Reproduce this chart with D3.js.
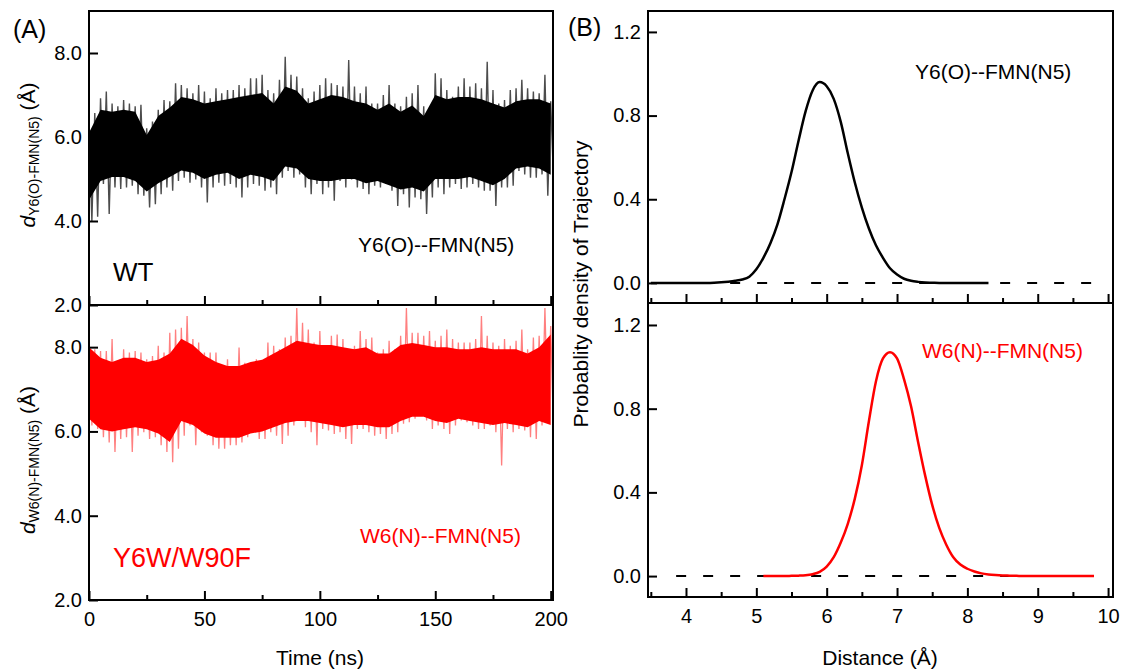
<!DOCTYPE html>
<html lang="en">
<head>
<meta charset="utf-8">
<title>Y6 / W6 - FMN distance</title>
<style>
 body { margin: 0; background: #fff; }
 svg text { font-family: Arial, "Liberation Sans", sans-serif; }
</style>
</head>
<body>
<div id="plot"></div>
<script src="https://d3js.org/d3.v7.min.js"></script>
<script>
// ---- time traces (ns): spike envelope every 2.5 ns, dense core every 5 ns
var tSpike = d3.range(0, 200.01, 2.5),
    tCore = d3.range(0, 200.01, 5);

var wtHi = [6.2, 6.57, 6.92, 7.08, 6.8, 6.73, 6.88, 6.8, 6.73, 6.77,
            6.21, 6.37, 6.65, 6.88, 6.85, 7.28, 7.24, 7.16, 7.04, 7.24,
            7.08, 6.92, 7.16, 7.04, 7.12, 7.12, 7.24, 7.16, 7.4, 7.4,
            7.48, 7.12, 7.04, 7.36, 7.91, 7.48, 7.44, 7.16, 6.92, 7.08,
            7.24, 7.4, 7.28, 7.24, 7.2, 7.83, 7.2, 7.04, 7.2, 6.8,
            6.8, 7.0, 7.24, 6.8, 6.73, 6.96, 7.04, 7.24, 6.73, 6.37,
            7.52, 7.4, 7.12, 6.96, 7.2, 7.4, 7.2, 7.28, 7.16, 7.79,
            7.12, 6.8, 6.88, 7.12, 7.16, 7.36, 7.16, 7.08, 7.04, 7.48, 6.85];
var wtLo = [4.0, 4.1, 4.88, 4.17, 4.8, 4.76, 4.8, 4.84, 4.64, 4.6,
            4.32, 4.4, 4.64, 4.8, 4.72, 4.95, 5.03, 4.91, 4.99, 4.8,
            4.44, 4.8, 4.91, 4.84, 4.88, 4.8, 4.56, 4.8, 4.88, 4.84,
            4.72, 4.8, 4.64, 5.03, 5.19, 5.03, 5.11, 4.8, 4.64, 4.88,
            4.64, 4.8, 4.48, 4.95, 4.8, 4.99, 4.8, 4.76, 4.64, 4.84,
            4.8, 4.88, 4.72, 4.36, 4.64, 4.32, 4.56, 4.52, 4.17, 4.56,
            4.8, 4.64, 4.8, 4.88, 4.76, 4.8, 4.88, 4.8, 4.72, 4.72,
            4.36, 4.8, 4.8, 4.84, 5.19, 5.11, 5.03, 5.03, 5.11, 4.6, 4.95];
var wtCoreHi = [6.1, 6.65, 6.6, 6.65, 6.6, 6.05, 6.5, 6.7, 6.95, 6.9,
                6.8, 6.85, 6.9, 6.95, 7.0, 7.05, 6.8, 7.2, 7.1, 6.8,
                6.9, 7.0, 6.95, 6.85, 6.8, 6.65, 6.8, 6.6, 6.75, 6.5,
                7.0, 6.9, 6.95, 6.95, 6.9, 6.8, 6.7, 6.85, 6.9, 6.9, 6.8];
var wtCoreLo = [4.5, 4.95, 5.05, 5.05, 4.95, 4.7, 4.9, 5.05, 5.2, 5.15,
                5.0, 5.1, 5.15, 5.0, 5.1, 5.05, 4.95, 5.3, 5.25, 5.0,
                4.95, 4.95, 5.0, 5.0, 4.9, 4.95, 4.85, 4.75, 4.8, 4.7,
                5.0, 5.0, 5.0, 5.05, 4.95, 4.85, 5.0, 5.25, 5.3, 5.25, 5.1];

var mutHi = [8.03, 7.95, 7.91, 7.91, 8.19, 7.63, 7.95, 7.87, 7.91, 7.87,
             7.71, 7.79, 8.03, 7.87, 8.34, 8.42, 8.46, 8.74, 8.19, 8.11,
             7.87, 7.87, 7.87, 7.56, 7.71, 7.4, 7.99, 7.63, 7.56, 7.71,
             7.63, 8.11, 8.03, 7.95, 8.23, 8.27, 8.93, 8.58, 8.42, 8.11,
             8.38, 8.03, 8.27, 8.3, 8.19, 7.95, 8.03, 8.38, 8.19, 8.23,
             7.87, 7.95, 8.15, 7.95, 8.27, 8.93, 8.34, 8.34, 8.27, 8.38,
             8.15, 8.27, 8.42, 8.19, 8.11, 8.11, 8.11, 8.19, 8.74, 8.27,
             8.11, 8.03, 8.19, 8.03, 8.15, 8.42, 7.95, 8.23, 8.27, 8.93, 8.5];
var mutLo = [6.14, 6.06, 5.86, 5.74, 5.51, 5.82, 5.86, 5.51, 5.9, 5.98,
             5.82, 5.86, 5.67, 5.51, 5.27, 5.59, 5.9, 6.14, 5.67, 5.98,
             5.9, 5.67, 5.59, 5.59, 5.67, 5.67, 5.74, 5.86, 6.06, 5.82,
             5.82, 5.98, 5.9, 5.7, 5.9, 6.14, 6.3, 6.1, 5.98, 5.67,
             6.06, 6.02, 5.94, 5.98, 5.82, 5.7, 6.06, 6.06, 5.98, 5.9,
             5.94, 5.82, 5.94, 5.98, 6.18, 6.22, 6.3, 6.37, 6.26, 6.06,
             6.14, 6.06, 5.94, 6.14, 6.26, 6.22, 6.14, 6.06, 6.06, 6.14,
             5.98, 5.19, 6.06, 5.98, 6.06, 6.02, 5.86, 5.82, 6.14, 6.3, 5.94];
var mutCoreHi = [8.0, 7.75, 7.65, 7.75, 7.75, 7.65, 7.7, 7.85, 8.2, 8.05,
                 7.8, 7.65, 7.55, 7.55, 7.65, 7.7, 7.85, 8.0, 8.15, 8.1,
                 8.05, 8.05, 8.0, 7.95, 8.0, 7.85, 7.85, 8.05, 8.1, 8.05,
                 8.0, 8.0, 7.95, 7.95, 8.0, 7.95, 7.95, 7.95, 7.85, 8.0, 8.3];
var mutCoreLo = [6.3, 6.05, 6.0, 6.05, 6.1, 6.05, 5.95, 5.75, 6.25, 6.15,
                 5.95, 5.85, 5.85, 5.85, 5.95, 6.0, 6.1, 6.2, 6.25, 6.25,
                 6.2, 6.15, 6.1, 6.15, 6.15, 6.1, 6.1, 6.25, 6.35, 6.35,
                 6.25, 6.2, 6.3, 6.25, 6.2, 6.15, 6.2, 6.15, 6.1, 6.25, 6.15];

// ---- probability density vs distance (Å)
var distWT = d3.range(35, 84).map(function (d) { return d / 10; });
var pdWT = [0, 0, 0, 0, 0, 0, 0, 0, 0, 0.001,
            0.003, 0.006, 0.01, 0.016, 0.03, 0.065, 0.12, 0.19, 0.28, 0.40,
            0.53, 0.68, 0.82, 0.92, 0.96, 0.94, 0.88, 0.77, 0.62, 0.48,
            0.36, 0.26, 0.18, 0.12, 0.07, 0.04, 0.02, 0.01, 0.005, 0.002,
            0.001, 0, 0, 0, 0, 0, 0, 0, 0];
var distMut = d3.range(51, 99).map(function (d) { return d / 10; });
var pdMut = [0, 0, 0, 0, 0.001, 0.002, 0.004, 0.009, 0.02, 0.045,
             0.09, 0.16, 0.25, 0.37, 0.53, 0.74, 0.93, 1.04, 1.07, 1.04,
             0.94, 0.81, 0.64, 0.48, 0.34, 0.23, 0.15, 0.09, 0.055, 0.035,
             0.022, 0.013, 0.008, 0.005, 0.003, 0.002, 0.001, 0, 0, 0,
             0, 0, 0, 0, 0, 0, 0, 0];
var zeroSpan = [3.86, 9.78];

var timeMajor = [0, 50, 100, 150, 200],
    timeMinor = [25, 75, 125, 175],
    distMajor = [4, 5, 6, 7, 8, 9, 10],
    distMinor = [3.5, 4.5, 5.5, 6.5, 7.5, 8.5, 9.5],
    dTicks = [2, 4, 6, 8],
    pTicks = [0, 0.4, 0.8, 1.2];

var RED = "#ff0000";

var svg = d3.select("#plot").append("svg")
            .attr("width", 1125).attr("height", 670);

var xTime = d3.scaleLinear().domain([0, 201]).range([89, 553]),
    yWT = d3.scaleLinear().domain([2, 9]).range([305, 11]),
    yMut = d3.scaleLinear().domain([2, 9]).range([600, 305]),
    xDist = d3.scaleLinear().domain([3.46, 10.07]).range([648, 1113]),
    yPdTop = d3.scaleLinear().domain([-0.096, 1.3]).range([303, 11]),
    yPdBot = d3.scaleLinear().domain([-0.1, 1.305]).range([597, 303]);

var clipN = 0;
var panel = function (x, y) {
  var id = "clip" + (clipN++);
  svg.append("clipPath").attr("id", id)
     .append("rect")
     .attr("x", x.range()[0]).attr("y", y.range()[1])
     .attr("width", x.range()[1] - x.range()[0])
     .attr("height", y.range()[0] - y.range()[1]);
  return svg.append("g").attr("clip-path", "url(#" + id + ")");
};

var styleAxis = function (g) {
  g.select(".domain").remove();
  g.attr("font-size", 20).attr("font-family", "Arial, 'Liberation Sans', sans-serif");
  g.selectAll("line").attr("stroke", "#000").attr("stroke-width", 2);
  g.selectAll("text").attr("fill", "#000");
};

var axes = function (x, y, major, minor, yTicks, showX, xfmt) {
  var base = y.range()[0];
  svg.append("g").attr("transform", "translate(0," + base + ")")
     .call(d3.axisBottom(x).tickValues(major).tickSize(-9).tickPadding(12)
             .tickFormat(showX ? xfmt : ""))
     .call(styleAxis);
  svg.append("g").attr("transform", "translate(0," + base + ")")
     .call(d3.axisBottom(x).tickValues(minor).tickSize(-5).tickFormat(""))
     .call(styleAxis);
  svg.append("g").attr("transform", "translate(" + x.range()[0] + ",0)")
     .call(d3.axisLeft(y).tickValues(yTicks).tickSize(-9).tickPadding(7)
             .tickFormat(d3.format(".1f")))
     .call(styleAxis);
  svg.append("rect")
     .attr("x", x.range()[0]).attr("y", y.range()[1])
     .attr("width", x.range()[1] - x.range()[0])
     .attr("height", y.range()[0] - y.range()[1])
     .attr("fill", "none").attr("stroke", "#000").attr("stroke-width", 2);
};

// noisy trace: thin zig-zag between spike extremes, solid band for the dense core
var drawTrace = function (y, hi, lo, coreHi, coreLo, color, spikeOpacity, spikeWidth) {
  var g = panel(xTime, y);
  var zig = [];
  tSpike.forEach(function (t, i) {
    zig.push([t, hi[i]]);
    zig.push([t + 1.25, lo[i]]);
  });
  g.append("path")
   .attr("d", d3.line().x(function (d) { return xTime(d[0]); })
                       .y(function (d) { return y(d[1]); })(zig))
   .attr("fill", "none").attr("stroke", color)
   .attr("stroke-opacity", spikeOpacity).attr("stroke-width", spikeWidth);
  g.append("path")
   .attr("d", d3.area().curve(d3.curveLinear)
                       .x(function (d, i) { return xTime(tCore[i]); })
                       .y0(function (d, i) { return y(coreLo[i]); })
                       .y1(function (d, i) { return y(coreHi[i]); })(tCore))
   .attr("fill", color);
};

var drawDensity = function (y, xs, ys, color) {
  var g = panel(xDist, y);
  g.append("path")
   .attr("d", d3.line().x(function (d) { return xDist(d); })
                       .y(function () { return y(0); })(zeroSpan))
   .attr("stroke", "#000").attr("stroke-width", 2)
   .attr("stroke-dasharray", "10,17").attr("fill", "none");
  g.append("path")
   .attr("d", d3.line().curve(d3.curveMonotoneX)
                       .x(function (d, i) { return xDist(xs[i]); })
                       .y(function (d) { return y(d); })(ys))
   .attr("fill", "none").attr("stroke", color).attr("stroke-width", 2.5);
};

drawTrace(yWT, wtHi, wtLo, wtCoreHi, wtCoreLo, "#000", 0.7, 1.4);
drawTrace(yMut, mutHi, mutLo, mutCoreHi, mutCoreLo, RED, 0.5, 1.3);
drawDensity(yPdTop, distWT, pdWT, "#000");
drawDensity(yPdBot, distMut, pdMut, RED);

axes(xTime, yWT, timeMajor, timeMinor, dTicks, false);
axes(xTime, yMut, timeMajor, timeMinor, dTicks, true, d3.format("d"));
axes(xDist, yPdTop, distMajor, distMinor, pTicks, false);
axes(xDist, yPdBot, distMajor, distMinor, pTicks, true, d3.format("d"));

var label = function (x, y, txt, size, color, anchor) {
  return svg.append("text").attr("x", x).attr("y", y)
            .attr("font-size", size).attr("fill", color || "#000")
            .attr("text-anchor", anchor || "start").text(txt);
};

label(13, 38, "(A)", 25);
label(568, 36, "(B)", 25);
label(113, 281, "WT", 26);
label(113, 567, "Y6W/W90F", 27, RED);
label(358, 252, "Y6(O)--FMN(N5)", 21);
label(360, 543, "W6(N)--FMN(N5)", 21, RED);
label(915, 79, "Y6(O)--FMN(N5)", 21);
label(922, 358, "W6(N)--FMN(N5)", 21, RED);
label(320, 665, "Time (ns)", 21, "#000", "middle");
label(880, 665, "Distance (Å)", 21, "#000", "middle");

var dLabel = function (cx, cy, sub) {
  var t = svg.append("text")
             .attr("transform", "translate(" + cx + "," + cy + ") rotate(-90)")
             .attr("text-anchor", "middle").attr("font-size", 21);
  t.append("tspan").attr("font-style", "italic").text("d");
  t.append("tspan").attr("font-size", 14).attr("dy", 4).text(sub);
  t.append("tspan").attr("dy", -4).text(" (Å)");
};
dLabel(35, 155, "Y6(O)-FMN(N5)");
dLabel(35, 460, "W6(N)-FMN(N5)");

svg.append("text")
   .attr("transform", "translate(588,284) rotate(-90)")
   .attr("text-anchor", "middle").attr("font-size", 21)
   .text("Probablity density of Trajectory");
</script>
</body>
</html>
